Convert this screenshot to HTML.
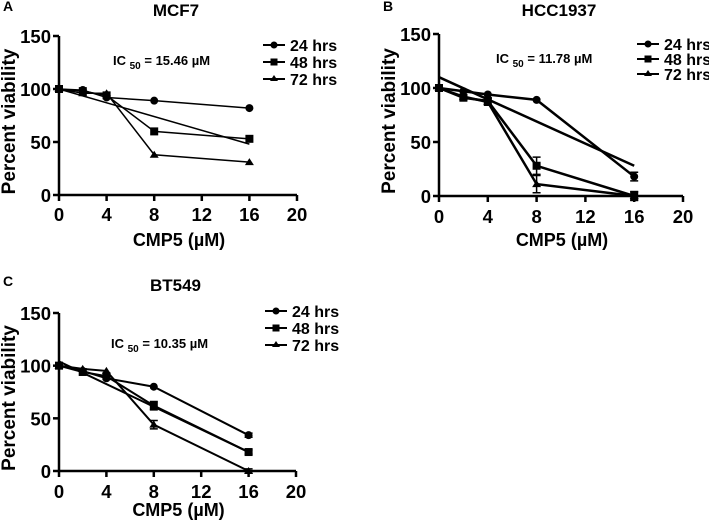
<!DOCTYPE html>
<html><head><meta charset="utf-8"><style>
body{margin:0;background:#fff;}
svg{display:block;font-family:"Liberation Sans",Arial,sans-serif;font-weight:bold;}
</style></head><body>
<svg id="fig" width="709" height="524" viewBox="0 0 709 524"></svg>
<script>
const xTicks=[0,4,8,12,16,20];
const yTicks=[0,50,100,150];
const doses=[0,2,4,8,16];
const seriesNames=["24 hrs","48 hrs","72 hrs"];
const mcf7_24=[100,99,92,89,82];
const mcf7_48=[100,98,94,60,53];
const mcf7_72=[100,96,96,38,31];
const mcf7_fit=[100,48];
const hcc_24=[100,97,94,89,18];
const hcc_48=[100,91,88,28,0];
const hcc_72=[100,92,87,11,0];
const hcc_fit=[110,28];
const bt_24=[100,95,88,80,34];
const bt_48=[100,94,90,62,18];
const bt_72=[100,97,95,44,0];
const bt_fit=[104,18];
const hccErr=[0,2,3,8,4];
const btErr=[0,1,1,4,2];

const NS="http://www.w3.org/2000/svg";
const svg=document.getElementById('fig');
function mk(tag,attrs,parent,text){const e=document.createElementNS(NS,tag);for(const k in attrs)e.setAttribute(k,attrs[k]);if(text!==undefined)e.textContent=text;(parent||svg).appendChild(e);return e;}

const panels=[
 {letter:"A",title:"MCF7",ic:"15.46",x0:59,x1:297,yTop:36,yBot:195,series:[mcf7_24,mcf7_48,mcf7_72],fit:mcf7_fit,err:null,sw:1.5,legX:263,legY:45,legDy:17,icX:113,icY:65,titleY:16,xlabY:214,xtY:246,name:"mcf7"},
 {letter:"B",title:"HCC1937",ic:"11.78",x0:439,x1:683,yTop:34,yBot:196,series:[hcc_24,hcc_48,hcc_72],fit:hcc_fit,err:hccErr,sw:2.5,legX:637,legY:44,legDy:15,icX:496,icY:63,titleY:16,xlabY:216,xtY:246,name:"hcc1937"},
 {letter:"C",title:"BT549",ic:"10.35",x0:59,x1:296,yTop:313,yBot:471,series:[bt_24,bt_48,bt_72],fit:bt_fit,err:btErr,sw:2,legX:265,legY:311,legDy:17,icX:111,icY:348,titleY:291,xlabY:491,xtY:516,name:"bt549"}
];

panels.forEach(p=>{
 const g=mk('g',{});
 
 
 const sx=v=>p.x0+(v/20)*(p.x1-p.x0);
 const sy=v=>p.yBot-(v/150)*(p.yBot-p.yTop);
 let t=mk('text',{x:p.x0-56,y:p.titleY-5,'font-size':14},g,p.letter);
 
 t=mk('text',{x:(p.x0+p.x1)/2-2,y:p.titleY,'font-size':17,'text-anchor':'middle'},g,p.title);
 
 let a=mk('line',{x1:p.x0,y1:p.yTop,x2:p.x0,y2:p.yBot,stroke:'#000','stroke-width':2.5},g);
 
 a=mk('line',{x1:p.x0,y1:p.yBot,x2:p.x1,y2:p.yBot,stroke:'#000','stroke-width':2.5},g);
 
 yTicks.forEach(v=>{
  mk('line',{x1:p.x0-6,y1:sy(v),x2:p.x0,y2:sy(v),stroke:'#000','stroke-width':2.5},g);
  const l=mk('text',{x:p.x0-8,y:sy(v)+7,'font-size':18.5,'text-anchor':'end'},g,v);
  
 });
 xTicks.forEach(v=>{
  mk('line',{x1:sx(v),y1:p.yBot,x2:sx(v),y2:p.yBot+6,stroke:'#000','stroke-width':2.5},g);
  const l=mk('text',{x:sx(v),y:p.xlabY+7,'font-size':18.5,'text-anchor':'middle'},g,v);
  
 });
 t=mk('text',{x:(p.x0+p.x1)/2+1,y:p.xtY,'font-size':18,'text-anchor':'middle'},g,'CMP5 (µM)');
 
 const cy=(p.yTop+p.yBot)/2+6;
 const cx=p.x0-44;
 t=mk('text',{x:cx,y:cy,'font-size':19,'text-anchor':'middle',transform:`rotate(-90 ${cx} ${cy})`},g,'Percent viability');
 
 t=mk('text',{x:p.icX,y:p.icY,'font-size':13},g);
 
 mk('tspan',{},t,'IC ');mk('tspan',{dy:4,'font-size':10},t,'50');mk('tspan',{dy:-4},t,' = '+p.ic+' µM');
 const f=mk('line',{x1:sx(0),y1:sy(p.fit[0]),x2:sx(16),y2:sy(p.fit[1]),stroke:'#000','stroke-width':p.sw},g);
 
 p.series.forEach((s,si)=>{
  const pts=doses.map((d,i)=>sx(d)+','+sy(s[i])).join(' ');
  const pl=mk('polyline',{points:pts,fill:'none',stroke:'#000','stroke-width':p.sw},g);
  
  
  doses.forEach((d,i)=>{
   const X=sx(d),Y=sy(s[i]);
   if(p.err&&p.err[i]>1&&si>0||p.err&&i==4&&si==0){
    const e=p.err[i];
    mk('path',{d:`M${X-4},${sy(s[i]+e)}H${X+4}M${X},${sy(s[i]+e)}V${sy(s[i]-e)}M${X-4},${sy(s[i]-e)}H${X+4}`,stroke:'#000','stroke-width':1.5,fill:'none'},g);
   }
   let m;
   if(si==0)m=mk('circle',{cx:X,cy:Y,r:4},g);
   else if(si==1)m=mk('rect',{x:X-4,y:Y-4,width:8,height:8},g);
   else m=mk('path',{d:`M${X},${Y-4}L${X+4.5},${Y+3}L${X-4.5},${Y+3}Z`},g);
   
   
  });
 });
 seriesNames.forEach((n,si)=>{
  const ly=p.legY+si*p.legDy;
  const lg=mk('g',{},g);
  
  mk('line',{x1:p.legX,y1:ly,x2:p.legX+22,y2:ly,stroke:'#000','stroke-width':2},lg);
  const X=p.legX+11;
  if(si==0)mk('circle',{cx:X,cy:ly,r:3.5},lg);
  else if(si==1)mk('rect',{x:X-3.5,y:ly-3.5,width:7,height:7},lg);
  else mk('path',{d:`M${X},${ly-4}L${X+4},${ly+2}L${X-4},${ly+2}Z`},lg);
  mk('text',{x:p.legX+27,y:ly+6,'font-size':16},lg,n);
 });
});
</script>
</body></html>
